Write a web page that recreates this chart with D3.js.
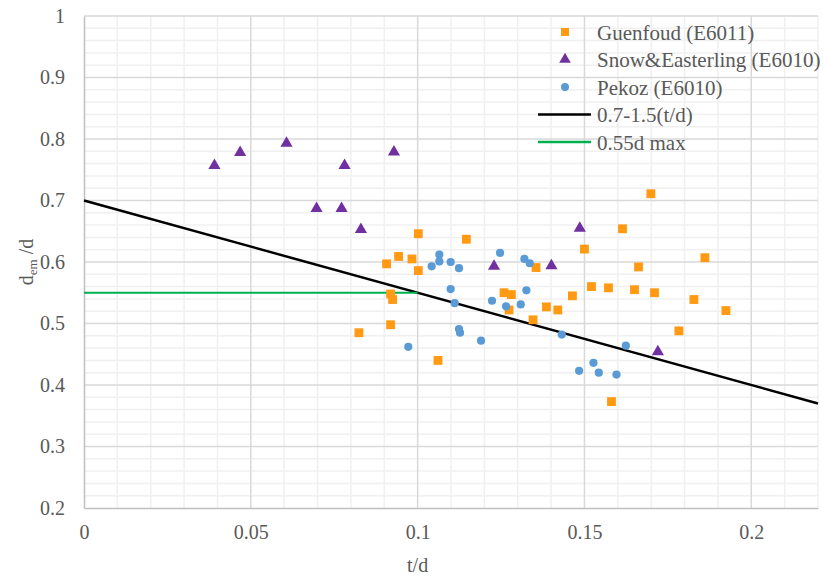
<!DOCTYPE html>
<html>
<head>
<meta charset="UTF-8">
<script src="https://d3js.org/d3.v7.min.js"></script>
</head>
<body style="margin:0">
<script>
// Guenfoud (E6011)
const guenX = [0.0824,0.0907,0.0943,0.0983,0.1002,0.1002,0.0919,0.0925,0.0919,0.1061,0.1146,0.1259,0.1281,0.1274,0.1346,0.1355,0.1386,0.1420,0.1464,0.1500,0.1521,0.1572,0.1581,0.1614,0.1650,0.1662,0.1699,0.1710,0.1783,0.1828,0.1861,0.1924];
const guenY = [0.485,0.597,0.609,0.605,0.646,0.586,0.548,0.539,0.498,0.440,0.637,0.550,0.547,0.522,0.506,0.591,0.527,0.522,0.545,0.621,0.560,0.558,0.373,0.654,0.555,0.592,0.711,0.550,0.488,0.539,0.607,0.521];
// Snow&Easterling (E6010)
const snowX = [0.0391,0.0468,0.0607,0.0781,0.0929,0.0697,0.0772,0.0830,0.1229,0.1401,0.1486,0.1720];
const snowY = [0.757,0.778,0.793,0.757,0.779,0.687,0.687,0.653,0.593,0.594,0.655,0.454];
// Pekoz (E6010)
const pekX = [0.1065,0.1065,0.1042,0.1099,0.1124,0.1247,0.1320,0.1336,0.1099,0.1111,0.1223,0.1265,0.1309,0.1326,0.1124,0.1127,0.1190,0.0972,0.1432,0.1624,0.1527,0.1484,0.1543,0.1596];
const pekY = [0.612,0.601,0.593,0.600,0.590,0.615,0.605,0.598,0.556,0.533,0.537,0.528,0.531,0.554,0.491,0.485,0.472,0.462,0.482,0.464,0.436,0.423,0.420,0.417];
// reference lines
const limitX = [0, 0.22];
const limitY = limitX.map(t => 0.7 - 1.5 * t);
const maxX = [0, 0.1];
const maxY = [0.55, 0.55];

const xTicks = [0, 0.05, 0.1, 0.15, 0.2];
const yTicks = [0.2, 0.3, 0.4, 0.5, 0.6, 0.7, 0.8, 0.9, 1];

const width = 823, height = 579;
const margin = {left: 84, right: 5, top: 16, bottom: 71};
const serif = '"Liberation Serif"';
const grey = "#595959";

const svg = d3.select("body").append("svg")
  .attr("width", width).attr("height", height);

const x = d3.scaleLinear().domain([0, 0.22]).range([margin.left, width - margin.right]);
const y = d3.scaleLinear().domain([0.2, 1]).range([height - margin.bottom, margin.top]);

// minor grid
const grid = svg.append("g");
grid.selectAll(".vx").data(d3.range(1, 23).map(i => i / 100).filter(v => Math.round(v * 100) % 5 != 0))
  .enter().append("line")
  .attr("x1", d => x(d)).attr("x2", d => x(d))
  .attr("y1", y(0.2)).attr("y2", y(1))
  .attr("stroke", "#f0f0f0").attr("stroke-width", 1.5);
grid.selectAll(".hy").data(d3.range(21, 100).map(i => i / 100).filter(v => Math.round(v * 100) % 2 == 0 && Math.round(v * 100) % 10 != 0))
  .enter().append("line")
  .attr("x1", x(0)).attr("x2", x(0.22))
  .attr("y1", d => y(d)).attr("y2", d => y(d))
  .attr("stroke", "#f0f0f0").attr("stroke-width", 1.5);
// major grid
grid.selectAll(".mx").data(xTicks.slice(1)).enter().append("line")
  .attr("x1", d => x(d)).attr("x2", d => x(d))
  .attr("y1", y(0.2)).attr("y2", y(1))
  .attr("stroke", "#d9d9d9").attr("stroke-width", 1.5);
grid.selectAll(".my").data(yTicks.slice(1)).enter().append("line")
  .attr("x1", x(0)).attr("x2", x(0.22))
  .attr("y1", d => y(d)).attr("y2", d => y(d))
  .attr("stroke", "#d9d9d9").attr("stroke-width", 1.5);

// axes
const xAxis = svg.append("g").attr("transform", `translate(0,${y(0.2)})`)
  .call(d3.axisBottom(x).tickValues(xTicks).tickSize(0).tickPadding(17).tickFormat(d3.format("")));
const yAxis = svg.append("g").attr("transform", `translate(${x(0)},0)`)
  .call(d3.axisLeft(y).tickValues(yTicks).tickSize(0).tickPadding(19).tickFormat(d3.format("")));
[xAxis, yAxis].forEach(a => {
  a.attr("font-family", null).attr("font-size", null);
  a.select(".domain").attr("stroke", "#bfbfbf").attr("stroke-width", 1.5);
  a.selectAll("text").style("font-family", serif).attr("font-size", 20).attr("fill", grey);
});

svg.append("text").attr("x", x(0.1)).attr("y", 572).attr("text-anchor", "middle")
  .style("font-family", serif).attr("font-size", 20).attr("fill", grey).text("t/d");
const yt = svg.append("text").attr("transform", `translate(33,${y(0.6)}) rotate(-90)`)
  .style("font-family", serif).attr("font-size", 20).attr("fill", grey).attr("text-anchor", "middle");
yt.append("tspan").text("d");
yt.append("tspan").attr("font-size", 13).attr("dy", 4).text("em");
yt.append("tspan").attr("dy", -4).text(" /d");

// lines
const line = d3.line().x(d => x(d[0])).y(d => y(d[1]));
svg.append("path").datum(d3.zip(limitX, limitY)).attr("d", line)
  .attr("fill", "none").attr("stroke", "#000").attr("stroke-width", 2.5);
svg.append("path").datum(d3.zip(maxX, maxY)).attr("d", line)
  .attr("fill", "none").attr("stroke", "#00b050").attr("stroke-width", 2);

const orange = "#ff9a12", purple = "#7030a0", blue = "#5b9bd5";
const sq = d3.symbol().type(d3.symbolSquare).size(78);
const tri = d3.symbol().type(d3.symbolTriangle).size(64);

svg.append("g").selectAll("path").data(d3.zip(guenX, guenY)).enter().append("path")
  .attr("d", sq).attr("transform", d => `translate(${x(d[0])},${y(d[1])})`).attr("fill", orange);
svg.append("g").selectAll("path").data(d3.zip(snowX, snowY)).enter().append("path")
  .attr("d", tri).attr("transform", d => `translate(${x(d[0])},${y(d[1])})`).attr("fill", purple);
svg.append("g").selectAll("circle").data(d3.zip(pekX, pekY)).enter().append("circle")
  .attr("cx", d => x(d[0])).attr("cy", d => y(d[1])).attr("r", 4.1).attr("fill", blue);

// legend
const legend = svg.append("g");
const items = [
  {label: "Guenfoud (E6011)", kind: "sq"},
  {label: "Snow&Easterling (E6010)", kind: "tri"},
  {label: "Pekoz (E6010)", kind: "circ"},
  {label: "0.7-1.5(t/d)", kind: "line", color: "#000"},
  {label: "0.55d max", kind: "line", color: "#00b050"}
];
items.forEach((it, i) => {
  const cy = 32 + i * 27.5;
  if (it.kind == "sq") legend.append("path").attr("d", d3.symbol().type(d3.symbolSquare).size(64)).attr("transform", `translate(565,${cy})`).attr("fill", orange);
  if (it.kind == "tri") legend.append("path").attr("d", d3.symbol().type(d3.symbolTriangle).size(58)).attr("transform", `translate(565,${cy})`).attr("fill", purple);
  if (it.kind == "circ") legend.append("circle").attr("cx", 565).attr("cy", cy).attr("r", 4).attr("fill", blue);
  if (it.kind == "line") legend.append("line").attr("x1", 538).attr("x2", 591).attr("y1", cy).attr("y2", cy)
    .attr("stroke", it.color).attr("stroke-width", 2.5);
  legend.append("text").attr("x", 597).attr("y", cy + 7.5)
    .style("font-family", serif).attr("font-size", 21).attr("fill", grey).text(it.label);
});
</script>
</body>
</html>
